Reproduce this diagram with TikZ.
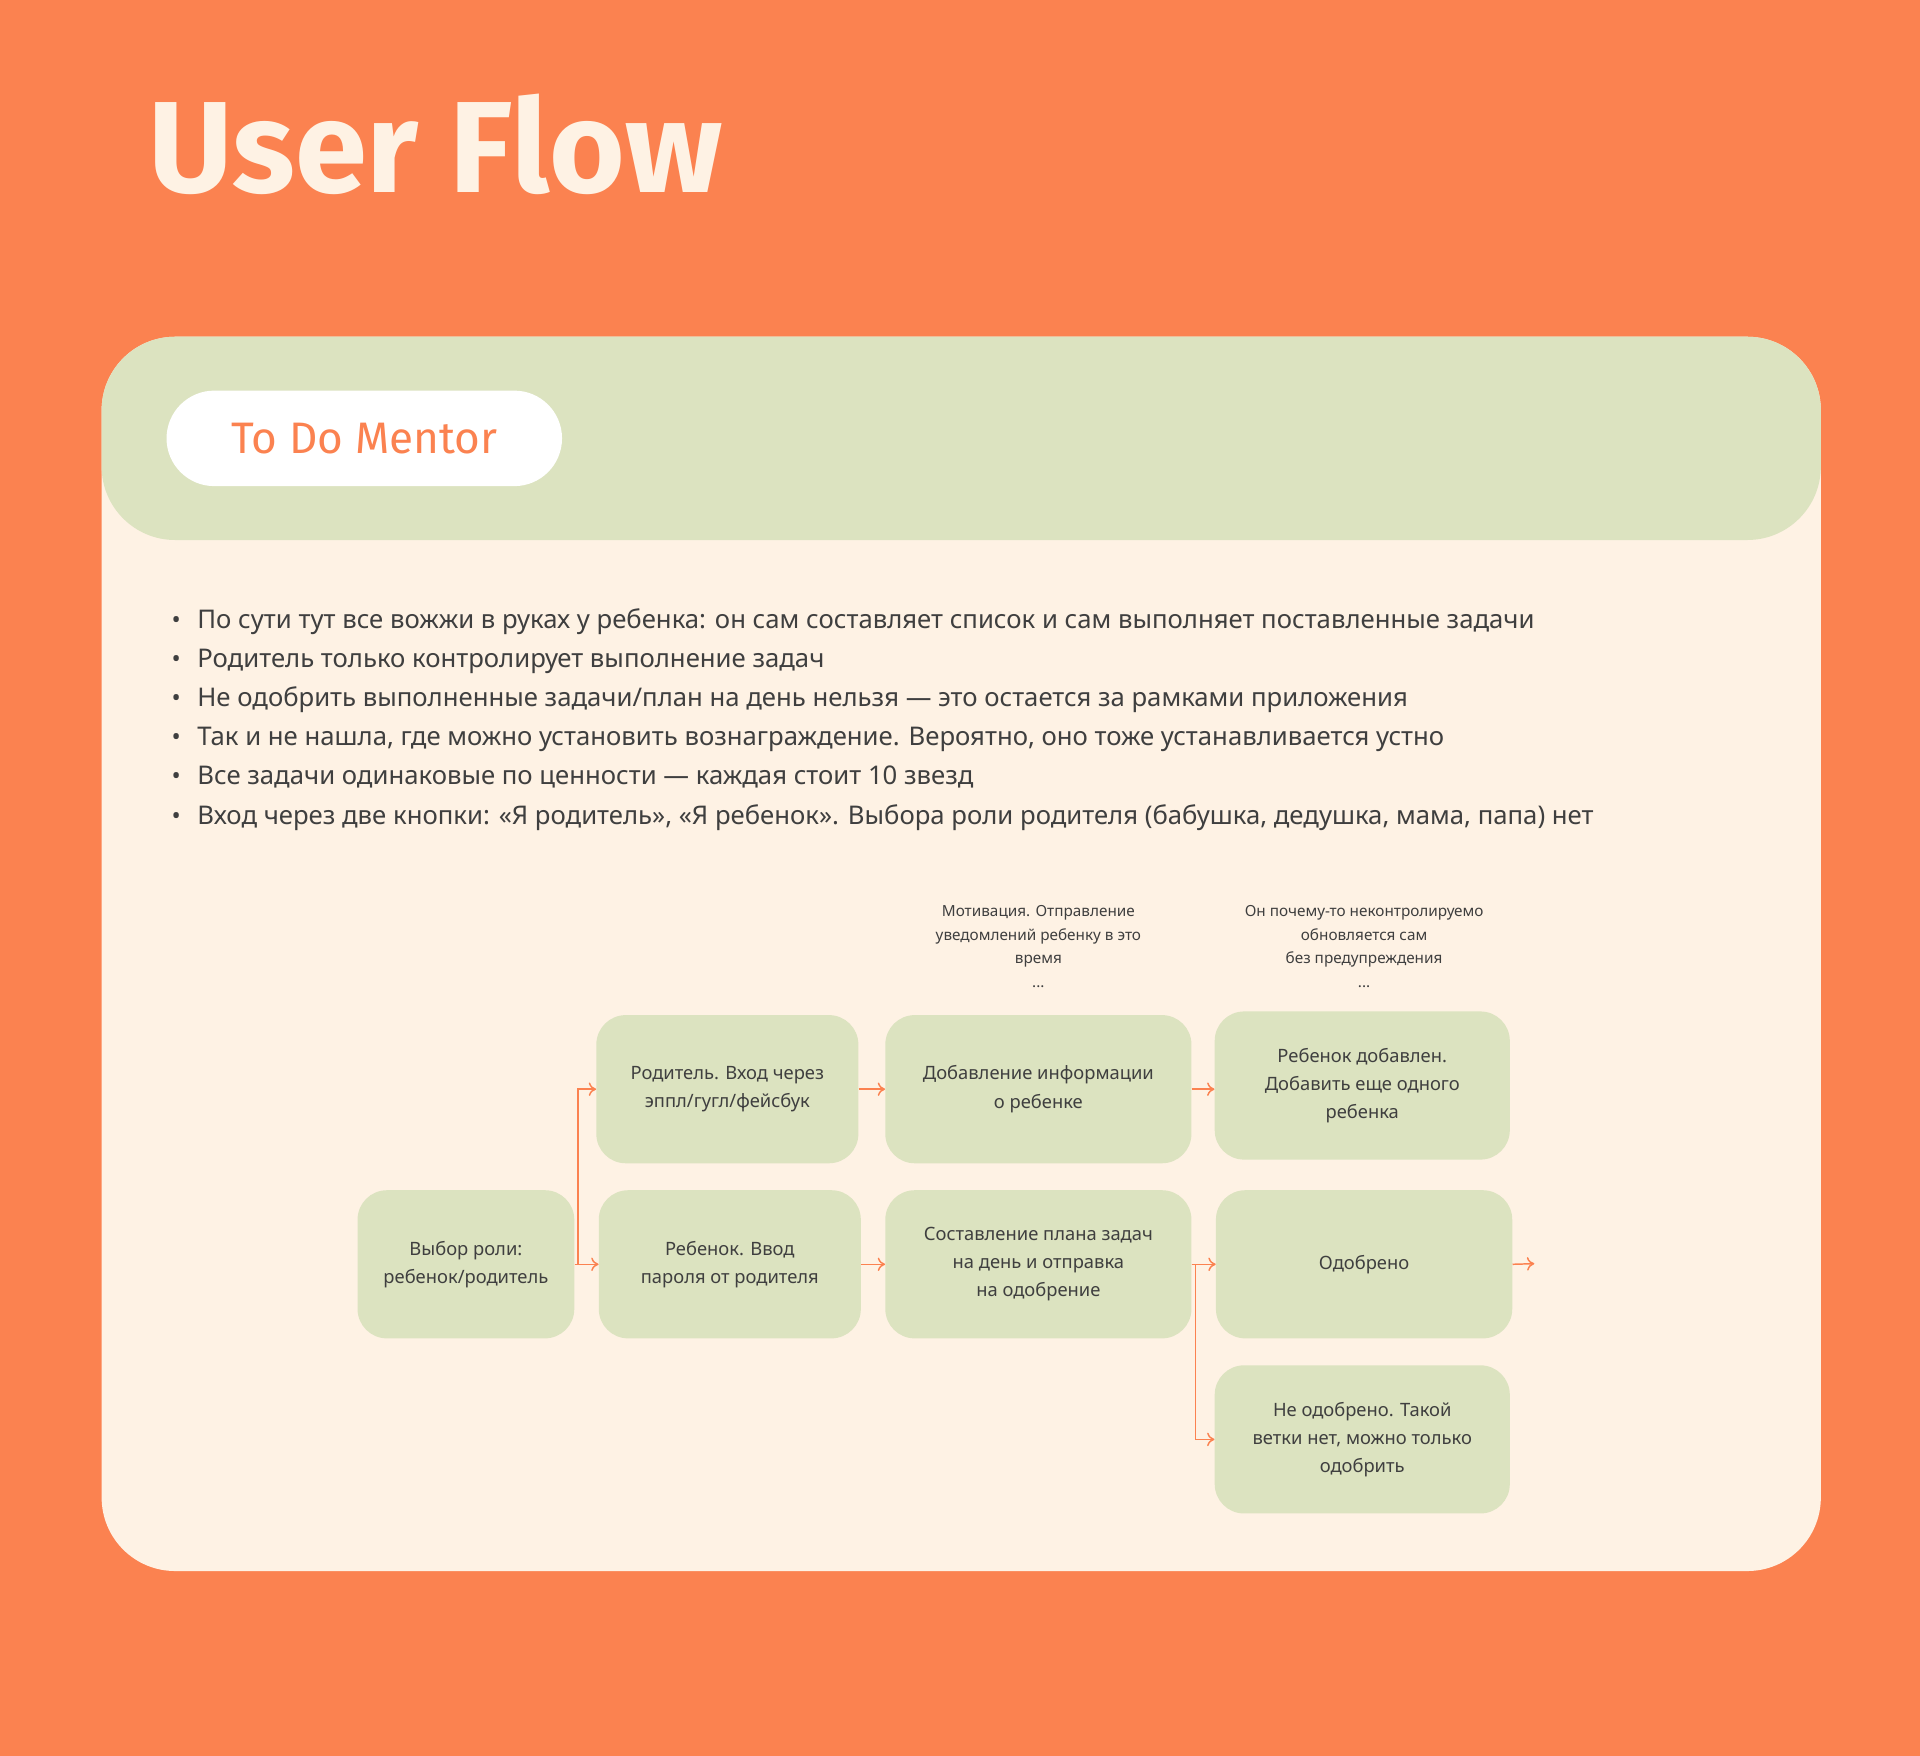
\documentclass[tikz,border=0pt]{standalone}
\usepackage{fontspec}
\setmainfont{Noto Sans}
\newfontfamily\tfont{Fira Sans}
\usetikzlibrary{arrows.meta}
\definecolor{bgor}{HTML}{FB8250}
\definecolor{cream}{HTML}{FEF2E4}
\definecolor{grn}{HTML}{DCE3C0}
\definecolor{txt}{HTML}{3F3F3F}
\begin{document}
\begin{tikzpicture}[x=1pt,y=-1pt,
 box/.style={draw=none,fill=grn,rounded corners=24pt,align=center,text=txt,font=\fontsize{15}{23}\selectfont,inner sep=0pt},
 con/.style={draw=bgor,line width=1.2pt,-{To[length=6pt,width=11pt]}},
 note/.style={align=center,text=txt,font=\fontsize{12.5}{19.5}\selectfont}]
\useasboundingbox (0,0) rectangle (1568,1434);
\fill[bgor] (0,0) rectangle (1568,1434);
\node[anchor=base west,text=cream,font=\tfont\bfseries\fontsize{106}{106}\selectfont,inner sep=0pt] (title) at (121,157) {User Flow};
\fill[cream,rounded corners=60pt] (83,275) rectangle (1487,1283);
\fill[grn,rounded corners=60pt] (83,275) rectangle (1487,441);
\fill[white,rounded corners=39pt] (136,319) rectangle (459,397);
\node[text=bgor,font=\tfont\fontsize{36}{36}\selectfont] (pill) at (297.5,358) {To Do Mentor};
\foreach \t [count=\i] in {
 {По сути тут все вожжи в руках у ребенка: он сам составляет список и сам выполняет поставленные задачи},
 {Родитель только контролирует выполнение задач},
 {Не одобрить выполненные задачи/план на день нельзя — это остается за рамками приложения},
 {Так и не нашла, где можно установить вознаграждение. Вероятно, оно тоже устанавливается устно},
 {Все задачи одинаковые по ценности — каждая стоит 10 звезд},
 {Вход через две кнопки: «Я родитель», «Я ребенок». Выбора роли родителя (бабушка, дедушка, мама, папа) нет}}
 {\node[anchor=base west,inner sep=0pt,text=txt,font=\fontsize{21}{21}\selectfont] (b\i) at (161,{481+32*\i}) {\t};
  \node[anchor=base,inner sep=0pt,text=txt,font=\fontsize{20}{20}\selectfont] (d\i) at (144,{481+32*\i}) {•};}
\node[box,minimum width=177pt,minimum height=121pt] (A) at (380.5,1032.5) {Выбор роли:\\ребенок/родитель};
\node[box,minimum width=214pt,minimum height=121pt] (B1) at (594,889.5) {Родитель. Вход через\\эппл/гугл/фейсбук};
\node[box,minimum width=214pt,minimum height=121pt] (B2) at (596,1032.5) {Ребенок. Ввод\\пароля от родителя};
\node[box,minimum width=250pt,minimum height=121pt] (C1) at (848,889.5) {Добавление информации\\о ребенке};
\node[box,minimum width=250pt,minimum height=121pt] (C2) at (848,1032.5) {Составление плана задач\\на день и отправка\\на одобрение};
\node[box,minimum width=241pt,minimum height=121pt] (D1) at (1112.5,886.5) {Ребенок добавлен.\\Добавить еще одного\\ребенка};
\node[box,minimum width=242pt,minimum height=121pt] (D2) at (1114,1032.5) {Одобрено};
\node[box,minimum width=241pt,minimum height=121pt] (D3) at (1112.5,1175.5) {Не одобрено. Такой\\ветки нет, можно только\\одобрить};
\node[note] (n1) at (848,773) {Мотивация. Отправление\\уведомлений ребенку в это\\время\\...};
\node[note] (n2) at (1114,773) {Он почему-то неконтролируемо\\обновляется сам\\без предупреждения\\...};
\coordinate (e) at (1253,1032);
\draw[con] (A.east) -- ++(3,0) |- (B1.west);
\draw[con] (A.east) -- (B2.west);
\draw[con] (B1.east) -- (C1.west |- B1.east);
\draw[con] (B2.east) -- (C2.west);
\draw[con] (C1.east) -- (D1.west |- C1.east);
\draw[con] (C2.east) -- (D2.west);
\draw[con] (C2.east) -- ++(3,0) |- (D3.west);
\draw[con] (D2.east) -- (e);
\end{tikzpicture}
\end{document}
